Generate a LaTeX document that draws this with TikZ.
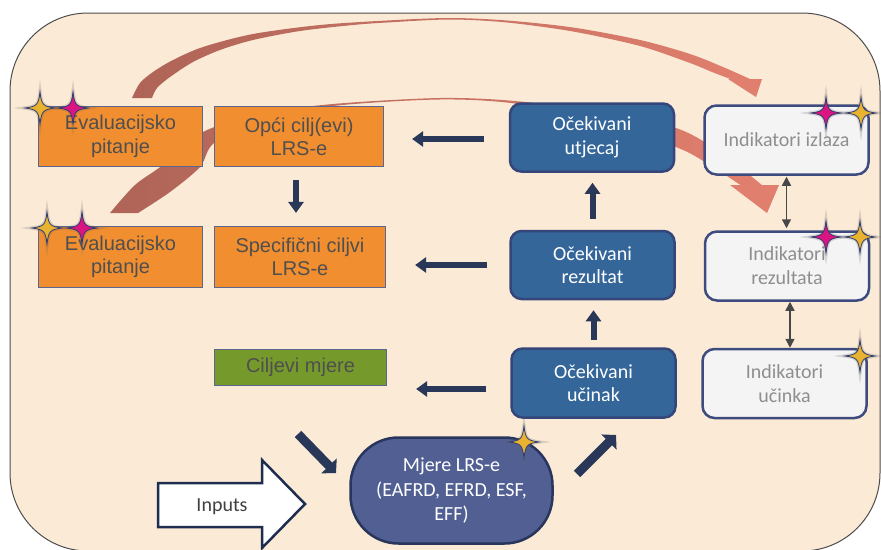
\documentclass[tikz,border=0pt]{standalone}
\usepackage{fontspec}
\setmainfont{Liberation Sans}
\newfontfamily\calfont{Carlito}
\usetikzlibrary{arrows.meta}
\definecolor{bgc}{HTML}{FBEAD6}
\definecolor{orangec}{HTML}{F18E30}
\definecolor{obord}{HTML}{5A6690}
\definecolor{otext}{HTML}{4F4F4F}
\definecolor{bluec}{HTML}{34669A}
\definecolor{bbord}{HTML}{34467A}
\definecolor{navy}{HTML}{293758}
\definecolor{greenc}{HTML}{76992C}
\definecolor{indfill}{HTML}{F4F4F4}
\definecolor{indbord}{HTML}{3D4B7E}
\definecolor{indtext}{HTML}{8E8E8E}
\definecolor{mjfill}{HTML}{515F93}
\definecolor{mjbord}{HTML}{28355C}
\definecolor{reddark}{HTML}{AE6457}
\definecolor{redlight}{HTML}{E17F6E}
\definecolor{goldc}{HTML}{EAB32F}
\definecolor{magc}{HTML}{DA1480}
\definecolor{starbord}{HTML}{2F3C70}
\definecolor{inbord}{HTML}{1F2D50}
\tikzset{
  obox/.style={draw=obord, line width=1.2pt, fill=orangec, text=otext,
    font=\fontsize{20}{23.5}\selectfont, align=center, inner sep=0pt},
  bbox/.style={draw=bbord, line width=2.5pt, fill=bluec, text=white,
    rounded corners=11pt, font=\calfont\fontsize{20}{23.5}\selectfont,
    align=center, inner sep=0pt, minimum width=164pt, minimum height=68pt},
  ibox/.style={draw=indbord, line width=2.5pt, fill=indfill, text=indtext,
    rounded corners=12pt, font=\calfont\fontsize{20}{24}\selectfont,
    align=center, inner sep=0pt, minimum width=164pt, minimum height=69pt},
  navyarrow/.style={draw=navy, line width=6pt, -{Triangle[length=11pt,width=15pt]}},
  diagarrow/.style={draw=navy, line width=9pt, -{Triangle[length=10pt,width=21pt]}},
  dblarrow/.style={draw=black!72, line width=1.5pt,
    {Triangle[length=9pt,width=9pt]}-{Triangle[length=9pt,width=9pt]}},
  sparkle/.pic={
    \path[pic actions] (0,-16) .. controls (1.6,-3) and (3,-1.6) .. (15,0)
      .. controls (3,1.6) and (1.6,3) .. (0,16)
      .. controls (-1.6,3) and (-3,1.6) .. (-15,0)
      .. controls (-3,-1.6) and (-1.6,-3) .. cycle;
  }
}
\begin{document}
\begin{tikzpicture}[x=1pt,y=-1pt]
\useasboundingbox (0,0) rectangle (881,549);
\clip (0,0) rectangle (881,549);
% background
\draw[fill=bgc, draw=black!70, line width=1pt, rounded corners=78pt] (10,13) rectangle (880,551);

% red curved arrow 1
\shade[left color=reddark, right color=redlight]
  plot[smooth, tension=0.5] coordinates {(132,98) (140,83) (153,72) (173,60) (203,47) (253,34) (320,25) (387,20.5) (450,18) (507,20.5) (573,27.5) (640,40) (690,54) (723,67) (750,79)}
  -- plot[smooth, tension=0.5] coordinates {(733,80) (712,72) (690,63) (640,46) (573,31.5) (507,22.5) (450,19.5) (387,22.5) (353,25) (300,31) (253,40) (220,50) (193,62) (170,77) (157,88) (152,98)}
  -- cycle;
\fill[redlight] (728,79) -- (762,79) -- (756,97) -- cycle;

% red curved arrow 2
\shade[left color=reddark, right color=redlight]
  plot[smooth, tension=0.5] coordinates {(110,213) (135,185) (163,165) (203,132) (260,114) (333,104) (440,98) (515,101) (600,112) (676,128) (720,152) (763,186)}
  -- plot[smooth, tension=0.5] coordinates {(742,186) (705,162) (676,147) (600,120) (515,103.5) (440,99.5) (333,106) (260,121) (214,143) (200,167) (170,192) (138,213)}
  -- cycle;
\fill[redlight] (730,185) -- (779,185) -- (767,213) -- cycle;

% orange boxes
\node[obox, minimum width=164pt, minimum height=60pt] (ev1) at (120.5,136.5) {Evaluacijsko\\pitanje};
\node[obox, minimum width=169pt, minimum height=60pt] (opci) at (299,136.5) {Opći cilj(evi)\\LRS-e};
\node[obox, minimum width=164pt, minimum height=61pt] (ev2) at (120.5,257) {Evaluacijsko\\pitanje};
\node[obox, minimum width=171pt, minimum height=61pt] (spec) at (300,257) {Specifični ciljvi\\LRS-e};
\node[obox, fill=greenc, minimum width=172pt, minimum height=36pt] (cilj) at (300.5,367.5) {Ciljevi mjere};

% blue boxes
\node[bbox] (utj) at (592,137.5) {Očekivani\\utjecaj};
\node[bbox] (rez) at (592.5,265) {Očekivani\\rezultat};
\node[bbox, minimum height=69pt] (uci) at (593.5,383) {Očekivani\\učinak};

% indicator boxes
\node[ibox] (iiz) at (786.5,140) {Indikatori izlaza};
\node[ibox] (irez) at (787,266) {Indikatori\\rezultata};
\node[ibox] (iuc) at (784.5,383.5) {Indikatori\\učinka};

% measures
\node[draw=mjbord, line width=2.5pt, fill=mjfill, rounded corners=48pt,
  minimum width=202pt, minimum height=106pt, text=white, inner sep=0pt,
  font=\calfont\fontsize{20}{24.5}\selectfont, align=center] (mj) at (451.5,490.5)
  {Mjere LRS-e\\(EAFRD, EFRD, ESF,\\EFF)};

% inputs arrow
\draw[draw=inbord, line width=2.5pt, fill=white, line join=miter]
  (158,483) -- (262,483) -- (262,460) -- (305,504) -- (262,548) -- (262,527) -- (158,527) -- cycle;
\node[text=black!75, font=\calfont\fontsize{20}{24}\selectfont] (inputs) at (222,507) {Inputs};

% navy arrows
\draw[navyarrow, shorten <=25pt, shorten >=28pt] ([yshift=-1.5pt]utj.west) -- ([yshift=-1.5pt]utj.west -| opci.east);
\draw[navyarrow, shorten <=22pt, shorten >=29pt] (rez.west) -- (rez.west -| spec.east);
\draw[navyarrow, shorten <=24pt, shorten >=29pt] ([yshift=-6pt]uci.west) -- ([yshift=-6pt]uci.west -| cilj.east);
\draw[navyarrow, shorten <=11pt, shorten >=10pt] (rez.north) -- (rez.north |- utj.south);
\draw[navyarrow, shorten <=7pt, shorten >=10pt] (uci.north) -- (uci.north |- rez.south);
\draw[navyarrow, shorten <=13pt, shorten >=13pt] ([xshift=-3pt]opci.south) -- ([xshift=-3pt]opci.south |- spec.north);

\coordinate (d1s) at (298,434);
\coordinate (d1e) at (336,473);
\coordinate (d2s) at (577,474);
\coordinate (d2e) at (616,435);
\draw[diagarrow] (d1s) -- (d1e);
\draw[diagarrow] (d2s) -- (d2e);

% double arrows
\draw[dblarrow, shorten <=1pt, shorten >=2pt] (iiz.south) -- (iiz.south |- irez.north);
\draw[dblarrow, shorten <=0pt, shorten >=0pt] ([xshift=3pt]irez.south) -- ([xshift=3pt]irez.south |- iuc.north);

% stars
\foreach \sx/\sy/\sc in {40/108/goldc, 73/108/magc, 47/228/goldc, 82/228/magc,
  826/113/magc, 861/113/goldc, 826/237/magc, 860/237/goldc, 860/356/goldc, 524/442/goldc}{
  \pic[draw=black!60, draw opacity=0.22, line width=3.5pt] at (\sx,\sy) {sparkle};
  \pic[fill=\sc, draw=starbord, line width=0.8pt] at (\sx,\sy) {sparkle};
}
\end{tikzpicture}
\end{document}
